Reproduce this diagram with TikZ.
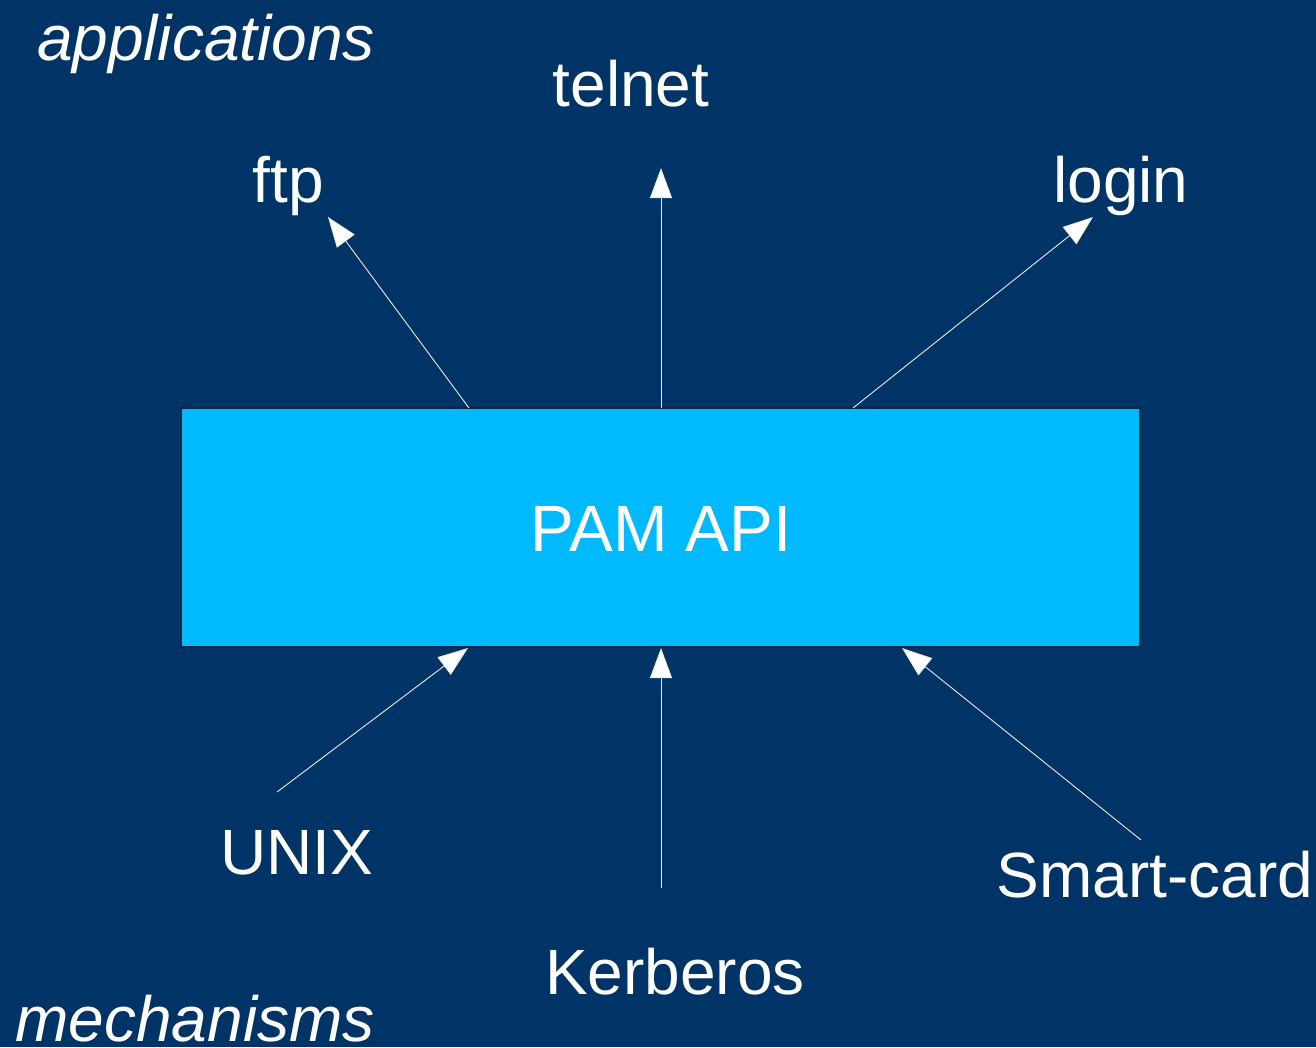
\documentclass[tikz,border=0pt]{standalone}
\usepackage{fontspec}
\setmainfont{Liberation Sans}
\usetikzlibrary{arrows.meta}
\definecolor{bg}{RGB}{0,51,102}
\definecolor{boxfill}{RGB}{0,185,255}
\definecolor{boxline}{RGB}{10,40,70}
\tikzset{
  lbl/.style={text=white, font=\fontsize{64}{70}\selectfont, anchor=base, inner sep=0pt},
  ilbl/.style={lbl, font=\fontsize{64}{70}\selectfont\itshape},
  conn/.style={draw=white!92!black, line width=0.9pt, -{Triangle[length=30pt,width=22pt,fill=white]}},
  pambox/.style={fill=boxfill, draw=boxline, line width=1.2pt, minimum width=959pt, minimum height=239pt, inner sep=0pt}
}
\begin{document}
\begin{tikzpicture}[x=1pt,y=-1pt]
\fill[bg] (0,0) rectangle (1316,1047);
\useasboundingbox (0,0) rectangle (1316,1047);
\node[pambox] (pam) at (660.5,527.5) {};
\node[lbl, font=\fontsize{65.5}{70}\selectfont] (pamtxt) at (661,551) {PAM API};
\node[ilbl] (apps) at (206,60) {applications};
\node[ilbl] (mech) at (195,1041) {mechanisms};
\node[lbl] (telnet) at (631,106) {telnet};
\node[lbl] (ftp) at (288,202) {ftp};
\node[lbl] (login) at (1121,202) {login};
\node[lbl] (unix) at (297,874) {UNIX};
\node[lbl] (kerb) at (675,994) {Kerberos};
\node[lbl] (smart) at (1155,897) {Smart-card};
% connector ends
\coordinate (ftpS) at (469,408);
\coordinate (ftpT) at (328,217);
\coordinate (telS) at (661,408);
\coordinate (telT) at (661,168);
\coordinate (logS) at (853,408);
\coordinate (logT) at (1093,217);
\coordinate (unixS) at (277,792);
\coordinate (unixT) at (468,648);
\coordinate (kerbS) at (661,888);
\coordinate (kerbT) at (661,648);
\coordinate (smartS) at (1141,840);
\coordinate (smartT) at (902,648);
\draw[conn] (ftpS) -- (ftpT);
\draw[conn] (telS) -- (telT);
\draw[conn] (logS) -- (logT);
\draw[conn] (unixS) -- (unixT);
\draw[conn] (kerbS) -- (kerbT);
\draw[conn] (smartS) -- (smartT);
\end{tikzpicture}
\end{document}
